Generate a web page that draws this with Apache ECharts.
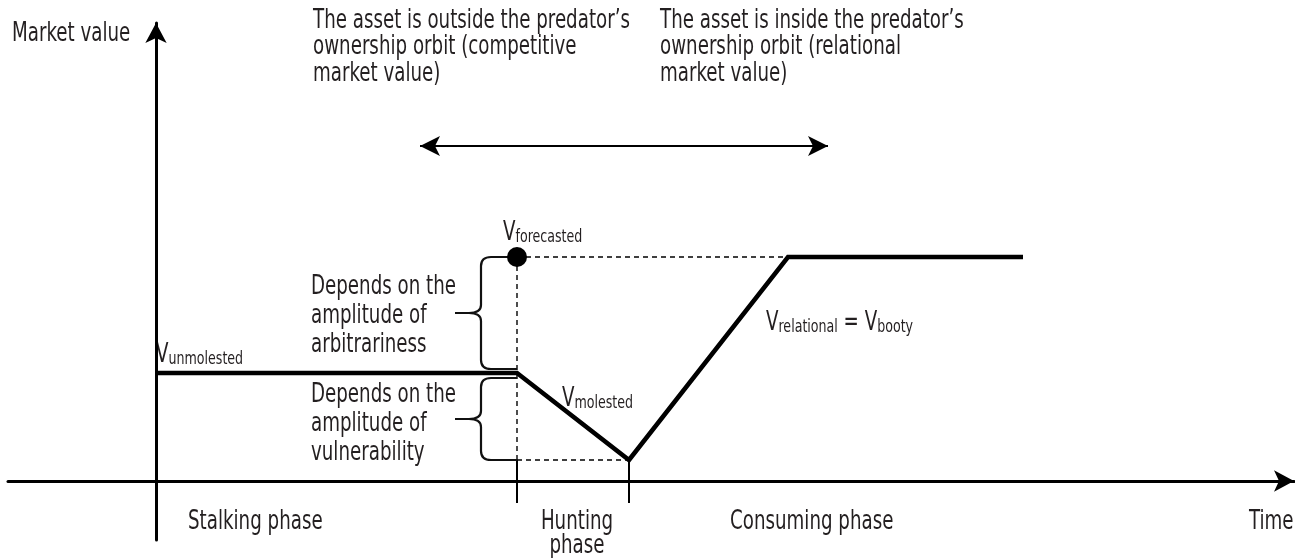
<!DOCTYPE html>
<html>
<head>
<meta charset="utf-8">
<script src="https://cdn.jsdelivr.net/npm/echarts@6/dist/echarts.min.js"></script>
<style>
html, body { margin: 0; padding: 0; background: #fff; }
#main { width: 1295px; height: 558px; }
</style>
</head>
<body>
<div id="main"></div>
<script>
// time / market value in arbitrary units, origin where the axes cross
var phaseBounds = [36.1, 47.3];   // hunting phase starts / ends
var valuePath = [[0, 10.8], [36.1, 10.8], [47.3, 2.1], [63.2, 22.4], [86.7, 22.4]];
var forecastPoint = [36.1, 22.4];
var braceSpans = [[36.1, 22.4, 11.2], [36.1, 10.3, 2.1]];  // x, top, bottom
var orbitArrow = [[26.4, 33.5], [67.2, 33.5]];
var phaseTick = [2.1, -2.2];

var phaseNames = ['Stalking phase', 'Hunting\nphase', 'Consuming phase'];
var axisNames = ['Time', 'Market value'];
var orbitNotes = [
	'The asset is outside the predator\u2019s\nownership orbit (competitive\nmarket value)',
	'The asset is inside the predator\u2019s\nownership orbit (relational\nmarket value)'
];
var braceNotes = [
	'Depends on the\namplitude of\narbitrariness',
	'Depends on the\namplitude of\nvulnerability'
];

var FONT = '"Liberation Sans Narrow", "DejaVu Sans Condensed", "DejaVu Sans", sans-serif';
var INK = '#231f20';
var SQUEEZE = 0.78;   // fake a condensed face

var myChart = echarts.init(document.getElementById('main'));

function txt(text, x, y, extra) {
	var st = {
		text: text,
		fill: INK,
		fontSize: 26,
		fontFamily: FONT,
		lineHeight: 27,
		align: 'left',
		verticalAlign: 'top'
	};
	if (extra) {
		for (var k in extra) st[k] = extra[k];
	}
	return { type: 'text', x: x, y: y, scaleX: SQUEEZE, style: st };
}

var sub = {
	v: { fontSize: 26, fontFamily: FONT, color: INK, lineHeight: 30, verticalAlign: 'bottom' },
	s: { fontSize: 18, fontFamily: FONT, color: INK, lineHeight: 30, verticalAlign: 'bottom' }
};

// dashed guide lines
var guides = [
	[forecastPoint, [valuePath[3][0], forecastPoint[1]]],
	[forecastPoint, [forecastPoint[0], valuePath[2][1]]],
	[[forecastPoint[0], valuePath[2][1]], valuePath[2]]
];

var series = [];
guides.forEach(function (g) {
	series.push({
		type: 'line',
		data: g,
		symbol: 'none',
		silent: true,
		lineStyle: { color: '#000', width: 1.4, type: [5, 4] },
		z: 2
	});
});
phaseBounds.forEach(function (x) {
	series.push({
		type: 'line',
		data: [[x, phaseTick[0]], [x, phaseTick[1]]],
		symbol: 'none',
		silent: true,
		lineStyle: { color: '#000', width: 2 },
		z: 2
	});
});
series.push({
	type: 'line',
	data: valuePath,
	symbol: 'none',
	silent: true,
	lineStyle: { color: '#000', width: 4.5, join: 'miter' },
	z: 5,
	markLine: {
		silent: true,
		symbol: ['arrow', 'arrow'],
		symbolSize: [15, 20],
		label: { show: false },
		lineStyle: { color: '#000', width: 2.2, type: 'solid' },
		data: [[{ coord: orbitArrow[0] }, { coord: orbitArrow[1] }]]
	}
});
series.push({
	type: 'scatter',
	data: [forecastPoint],
	symbolSize: 20,
	itemStyle: { color: '#000', opacity: 1 },
	z: 6
});
series.push({
	type: 'custom',
	data: braceSpans,
	encode: { x: 0, y: [1, 2] },
	silent: true,
	z: 3,
	renderItem: function (params, api) {
		var a = api.coord([api.value(0), api.value(1)]);
		var b = api.coord([api.value(0), api.value(2)]);
		var x0 = a[0], y1 = a[1], y2 = b[1], ym = (y1 + y2) / 2;
		var xb = x0 - 36, xt = x0 - 62;
		var d = 'M' + x0 + ' ' + y1 +
			' L' + (x0 - 26) + ' ' + y1 +
			' Q' + xb + ' ' + y1 + ' ' + xb + ' ' + (y1 + 9) +
			' L' + xb + ' ' + (ym - 8) +
			' Q' + xb + ' ' + ym + ' ' + (x0 - 48) + ' ' + ym +
			' L' + xt + ' ' + ym +
			' M' + (x0 - 48) + ' ' + ym +
			' Q' + xb + ' ' + ym + ' ' + xb + ' ' + (ym + 8) +
			' L' + xb + ' ' + (y2 - 9) +
			' Q' + xb + ' ' + y2 + ' ' + (x0 - 26) + ' ' + y2 +
			' L' + x0 + ' ' + y2;
		return {
			type: 'path',
			shape: { pathData: d },
			style: { fill: 'none', stroke: '#111', lineWidth: 2.2 }
		};
	}
});

option = {
	animation: false,
	backgroundColor: '#fff',
	grid: { left: 8, right: 1, top: 23, bottom: 18 },
	xAxis: {
		type: 'value',
		min: -14.8,
		max: 113.8,
		splitLine: { show: false },
		axisTick: { show: false },
		axisLabel: { show: false },
		axisLine: {
			onZero: true,
			symbol: ['none', 'arrow'],
			symbolSize: [16, 20],
			lineStyle: { color: '#000', width: 3 }
		}
	},
	yAxis: {
		type: 'value',
		min: -5.9,
		max: 45.8,
		splitLine: { show: false },
		axisTick: { show: false },
		axisLabel: { show: false },
		axisLine: {
			onZero: true,
			symbol: ['none', 'arrow'],
			symbolSize: [16, 20],
			lineStyle: { color: '#000', width: 3 }
		}
	},
	graphic: [
		txt(axisNames[1], 12, 20.5),
		txt(orbitNotes[0], 313, 7.5, { lineHeight: 26.5 }),
		txt(orbitNotes[1], 660, 7.5, { lineHeight: 26.5 }),
		txt(braceNotes[0], 311, 272.5, { lineHeight: 29 }),
		txt(braceNotes[1], 311, 381, { lineHeight: 29 }),
		txt('{v|V}{s|forecasted}', 503, 216, { rich: sub }),
		txt('{v|V}{s|unmolested}', 156, 338, { rich: sub }),
		txt('{v|V}{s|molested}', 562, 382, { rich: sub }),
		txt('{v|V}{s|relational}{v| = V}{s|booty}', 766, 306, { rich: sub }),
		txt(phaseNames[0], 188, 510, { lineHeight: 24 }),
		txt(phaseNames[1], 577, 510, { align: 'center', lineHeight: 24 }),
		txt(phaseNames[2], 730, 510, { lineHeight: 24 }),
		txt(axisNames[0], 1249, 510, { lineHeight: 24 })
	],
	series: series
};

myChart.setOption(option);
</script>
</body>
</html>
